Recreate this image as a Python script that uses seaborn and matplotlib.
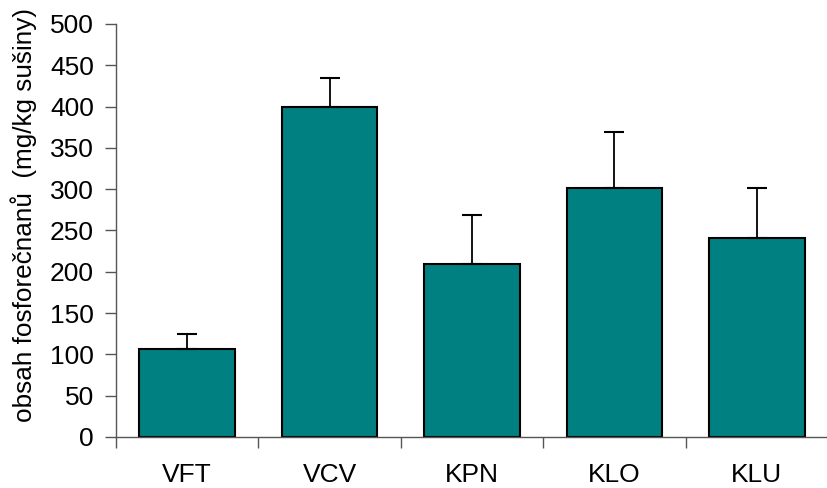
import numpy as np
import pandas as pd
import matplotlib
matplotlib.use("Agg")
import matplotlib.pyplot as plt
import seaborn as sns

# values
sites = ["VFT", "VCV", "KPN", "KLO", "KLU"]
means = [107, 400, 210, 302, 241]
errors = [18, 35, 59, 67, 61]

df = pd.DataFrame({"site": sites, "value": means})

sns.set_style("white")
plt.rcParams['font.family'] = ['Liberation Sans', 'DejaVu Sans']

fig = plt.figure(figsize=(8.28, 4.88), dpi=100)
ax = fig.add_axes([116 / 828, 1 - 437 / 488, (828 - 116) / 828, (437 - 24) / 488])

sns.barplot(data=df, x="site", y="value", color="#008080", saturation=1,
            width=0.67, edgecolor="black", linewidth=1.5, ax=ax)

# one-sided error bars (upper only)
x = np.arange(len(sites))
ax.errorbar(x, means, yerr=[np.zeros(len(errors)), errors], fmt="none",
            ecolor="black", elinewidth=1.3, capsize=7, capthick=1.5, zorder=3)

ax.set_ylim(0, 500)
ax.set_yticks(np.arange(0, 501, 50))
ax.set_xlim(-0.5, 4.43)
ax.set_xlabel("")
ax.set_ylabel("obsah fosforečnanů  (mg/kg sušiny)", fontsize=18.8, color="black")
ax.yaxis.set_label_coords(-0.111, 0.537)

# tick marks between categories, like the original
ax.set_xticks(np.arange(-0.5, 5, 1), minor=True)
ax.tick_params(axis="x", which="major", length=0, pad=19, labelsize=19, labelcolor="black")
ax.tick_params(axis="x", which="minor", length=8, width=1, color="#555555", direction="out")
ax.tick_params(axis="y", length=8, width=1, color="#555555", direction="out",
               labelsize=19, pad=8, labelcolor="black")
ax.yaxis.set_ticks_position("left")
ax.xaxis.set_ticks_position("bottom")

for side in ["top", "right"]:
    ax.spines[side].set_visible(False)
for side in ["left", "bottom"]:
    ax.spines[side].set_color("#555555")
    ax.spines[side].set_linewidth(1)

fig.savefig("out.png", dpi=100)
